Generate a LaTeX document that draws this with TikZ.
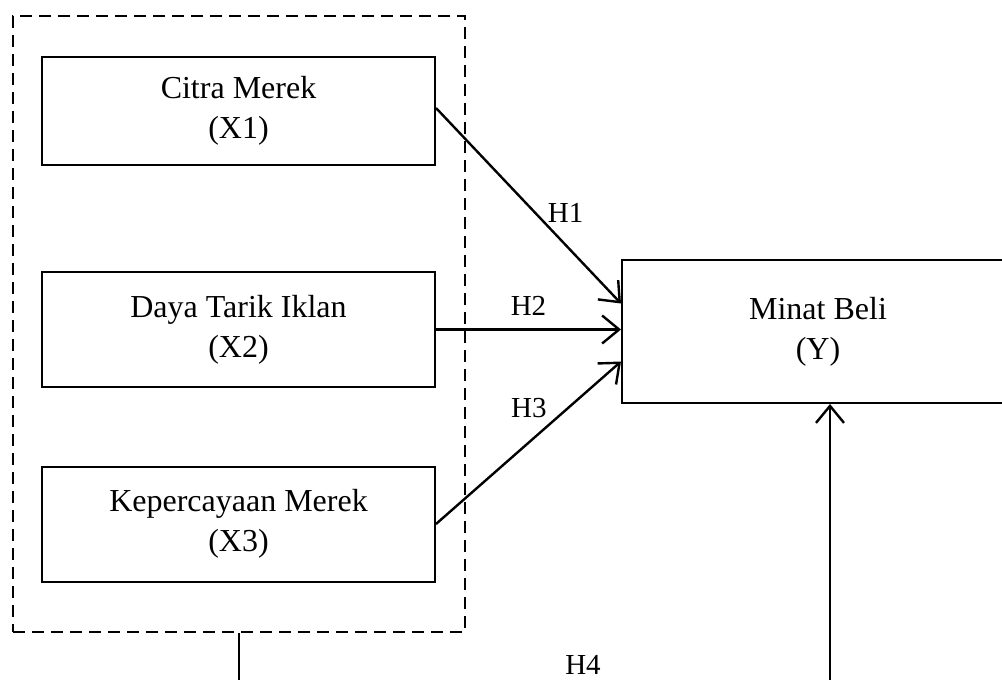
\documentclass[tikz,border=0pt]{standalone}
\usepackage{fontspec}
\setmainfont{Liberation Serif}
\usetikzlibrary{arrows.meta,positioning}
\tikzset{
  varbox/.style={draw, line width=2pt, minimum width=393pt, align=center,
    font=\fontsize{32}{40}\selectfont, inner sep=0pt},
  grpbox/.style={draw, line width=2pt, dash pattern=on 12pt off 7pt, inner sep=0pt},
  conn/.style={line width=2.4pt, -{Straight Barb[length=17pt,width=28pt,line width=2.4pt]}},
  hlab/.style={font=\fontsize{29}{32}\selectfont, inner sep=0pt}
}
\begin{document}
\begin{tikzpicture}[x=1pt,y=-1pt]
\clip (0,0) rectangle (1002,680);
\fill[white] (0,0) rectangle (1002,680);
\node[grpbox, minimum width=452pt, minimum height=616pt] (grp) at (239,324) {};
\node[varbox, minimum height=108pt] (x1) at (238.5,111) {Citra Merek\\(X1)};
\node[varbox, minimum height=115pt] (x2) at (238.5,329.5) {Daya Tarik Iklan\\(X2)};
\node[varbox, minimum height=115pt] (x3) at (238.5,524) {Kepercayaan Merek\\(X3)};
\node[varbox, minimum width=392pt, minimum height=143pt] (y) at (818,331.5) {Minat Beli\\(Y)};
\draw[conn] ([yshift=3pt]x1.east) -- ([yshift=28pt]y.west) node[hlab, pos=0.62, anchor=south west, xshift=-4pt, yshift=6pt] (h1) {H1};
\draw[conn] (x2.east) -- (x2.east -| y.west) node[hlab, midway, above=13pt] (h2) {H2};
\draw[conn] (x3.east) -- ([yshift=-30pt]y.west) node[hlab, pos=0.55, anchor=south east, xshift=10pt, yshift=16pt] (h3) {H3};
\coordinate (b1) at ([yshift=-80pt]grp.south);
\draw[line width=1.5pt] (grp.south) -- (b1);
\draw[conn] (b1) -| ([xshift=12pt]y.south);
\node[hlab] (h4) at (583,665) {H4};
\end{tikzpicture}
\end{document}
